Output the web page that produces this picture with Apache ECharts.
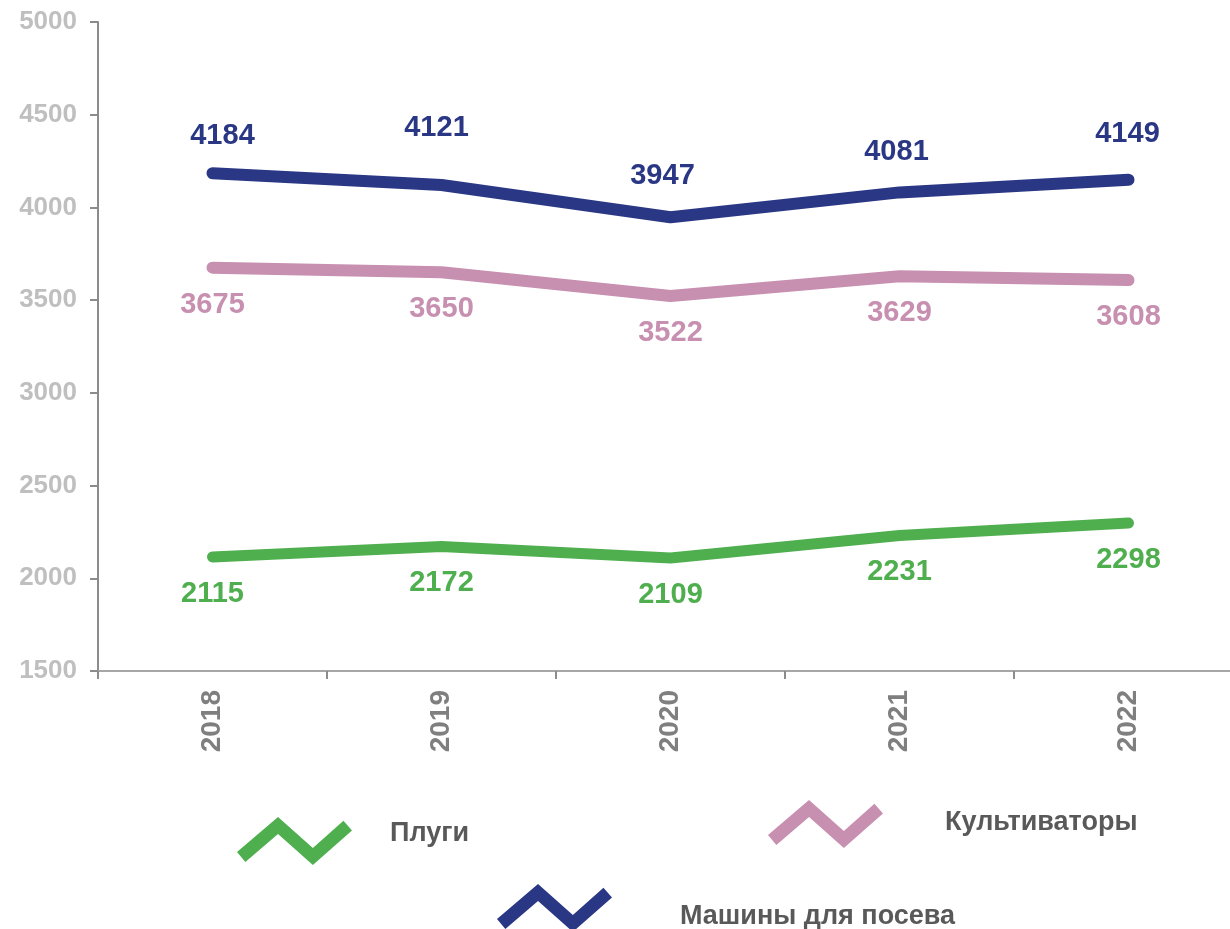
<!DOCTYPE html>
<html>
<head>
<meta charset="utf-8">
<script src="https://cdn.jsdelivr.net/npm/echarts@6/dist/echarts.min.js"></script>
<style>
  html, body { margin: 0; padding: 0; background: #fff; }
  #chart { width: 1230px; height: 929px; }
</style>
</head>
<body>
<div id="chart"></div>
<script>
var years = ['2018', '2019', '2020', '2021', '2022'];
var plugi = [2115, 2172, 2109, 2231, 2298];
var kultivatory = [3675, 3650, 3522, 3629, 3608];
var mashiny = [4184, 4121, 3947, 4081, 4149];
var yTicks = { min: 1500, max: 5000, step: 500 };

var FONT = '"Liberation Sans", Arial, sans-serif';
var GREEN = '#4FAF4F', PINK = '#C78FB0', BLUE = '#2A3784';

// zigzag legend icon (thick polyline as a polygon)
var zigzag = 'path://M0,35 L41.2,0 L76.2,31 L106.9,3.6 L115.5,13.4 L76.2,48 L41.2,17 L8.4,45 Z';

// blue labels sit a bit unevenly in the original
var blueShift = [[10, 0], [-5, -20], [-8, -4], [-3, -3], [-1, -9]];

function lineSeries(name, values, color, pos, width) {
  return {
    name: name,
    type: 'line',
    data: values,
    symbol: 'circle',
    symbolSize: 1,
    itemStyle: { color: color },
    lineStyle: { color: color, width: width, cap: 'round', join: 'round' },
    color: color,
    label: {
      show: true,
      position: pos,
      distance: 22,
      color: color,
      fontFamily: FONT,
      fontWeight: 'bold',
      fontSize: 29
    },
    emphasis: { disabled: true },
    animation: false
  };
}

// icon only
function legendIcon(name, color, left, top) {
  return {
    data: [{ name: name, icon: zigzag, itemStyle: { color: color, opacity: 1 } }],
    left: left,
    top: top,
    padding: 0,
    itemWidth: 115,
    itemHeight: 48,
    selectedMode: false,
    formatter: function () { return ''; }
  };
}

// text only
function legendText(name, left, top) {
  return {
    data: [{ name: name, icon: 'rect', itemStyle: { opacity: 0 } }],
    left: left - 6,
    top: top,
    padding: 0,
    itemWidth: 1,
    itemHeight: 1,
    selectedMode: false,
    textStyle: {
      color: '#595959',
      fontFamily: FONT,
      fontWeight: 'bold',
      fontSize: 27
    }
  };
}

var blue = lineSeries('Машины для посева', mashiny, BLUE, 'top', 12);
blue.data = mashiny.map(function (v, i) {
  return { value: v, label: { offset: blueShift[i] } };
});

var chart = echarts.init(document.getElementById('chart'));
chart.setOption({
  backgroundColor: '#fff',
  animation: false,
  grid: { left: 98, top: 22, width: 1145, height: 649, outerBoundsMode: 'none', containLabel: false },
  legend: [
    legendIcon('Плуги', GREEN, 237, 817),
    legendIcon('Культиваторы', PINK, 768, 800),
    legendIcon('Машины для посева', BLUE, 497, 884),
    legendText('Плуги', 390, 820),
    legendText('Культиваторы', 945, 809),
    legendText('Машины для посева', 680, 903)
  ],
  xAxis: {
    type: 'category',
    data: years,
    boundaryGap: true,
    axisLine: { lineStyle: { color: '#A6A6A6', width: 2 } },
    axisTick: { show: true, length: 8, lineStyle: { color: '#8C8C8C', width: 2 } },
    axisLabel: {
      rotate: 90,
      margin: 19,
      color: '#7F7F7F',
      fontFamily: FONT,
      fontWeight: 'bold',
      fontSize: 28
    },
    splitLine: { show: false }
  },
  yAxis: {
    type: 'value',
    min: yTicks.min,
    max: yTicks.max,
    interval: yTicks.step,
    axisLine: { show: true, lineStyle: { color: '#8C8C8C', width: 2 } },
    axisTick: { show: true, length: 8, lineStyle: { color: '#8C8C8C', width: 2 } },
    axisLabel: {
      margin: 21,
      color: '#BFBFBF',
      fontFamily: FONT,
      fontWeight: 'bold',
      fontSize: 26,
      formatter: function (v) { return String(v); }
    },
    splitLine: { show: false }
  },
  series: [
    lineSeries('Плуги', plugi, GREEN, 'bottom', 11),
    lineSeries('Культиваторы', kultivatory, PINK, 'bottom', 12),
    blue
  ]
});
</script>
</body>
</html>
